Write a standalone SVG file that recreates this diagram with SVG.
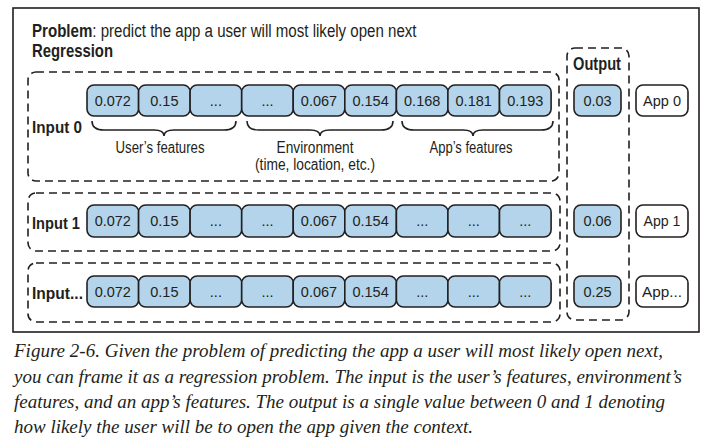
<svg xmlns="http://www.w3.org/2000/svg" width="727" height="437" viewBox="0 0 727 437">
<style>
.frame{fill:#fff;stroke:#231f20;stroke-width:1.6}
.dash{fill:none;stroke:#231f20;stroke-width:1.6;stroke-dasharray:8 5}
.cell{fill:#b3d4ea;stroke:#231f20;stroke-width:1.6}
.app{fill:#fff;stroke:#231f20;stroke-width:1.6}
.brace{fill:none;stroke:#231f20;stroke-width:1.6}
.t{font-family:"Liberation Sans",Arial,sans-serif;font-size:14.5px;fill:#231f20;text-anchor:middle}
.lab{font-family:"Liberation Sans",Arial,sans-serif;font-size:16px;fill:#231f20;text-anchor:middle}
.in{font-family:"Liberation Sans",Arial,sans-serif;font-size:17px;font-weight:bold;fill:#231f20}
.title{font-family:"Liberation Sans",Arial,sans-serif;font-size:19px;fill:#231f20}
.cap{font-family:"Liberation Serif","Times New Roman",serif;font-size:18px;font-style:italic;fill:#231f20}
</style>
<rect width="727" height="437" fill="#fff"/>
<rect class="frame" x="13" y="8" width="686" height="324"/>

<g id="title">
<g transform="translate(32,37) scale(0.794,1)">
<text class="title" x="0" y="0"><tspan font-weight="bold">Problem</tspan>: predict the app a user will most likely open next</text>
</g>
<text class="title" x="32" y="57" font-weight="bold" textLength="81" lengthAdjust="spacingAndGlyphs">Regression</text>
</g>

<g id="output-group">
<rect class="dash" x="567" y="48" width="62" height="272" rx="8"/>
<text class="title" x="573" y="70" font-weight="bold" textLength="48" lengthAdjust="spacingAndGlyphs">Output</text>
</g>

<g id="input0">
<rect class="dash" x="28" y="72" width="531" height="109" rx="8"/>
<text class="in" x="32" y="133" textLength="50" lengthAdjust="spacingAndGlyphs">Input 0</text>
<rect class="cell" x="87" y="85" width="51.6" height="31" rx="7"/>
<rect class="cell" x="138.6" y="85" width="51.6" height="31" rx="7"/>
<rect class="cell" x="190.1" y="85" width="51.6" height="31" rx="7"/>
<rect class="cell" x="241.7" y="85" width="51.6" height="31" rx="7"/>
<rect class="cell" x="293.2" y="85" width="51.6" height="31" rx="7"/>
<rect class="cell" x="344.8" y="85" width="51.6" height="31" rx="7"/>
<rect class="cell" x="396.4" y="85" width="51.6" height="31" rx="7"/>
<rect class="cell" x="447.9" y="85" width="51.6" height="31" rx="7"/>
<rect class="cell" x="499.5" y="85" width="51.6" height="31" rx="7"/>
<text class="t" x="112.8" y="106">0.072</text>
<text class="t" x="164.4" y="106">0.15</text>
<text class="t" x="215.9" y="106">...</text>
<text class="t" x="267.5" y="106">...</text>
<text class="t" x="319" y="106">0.067</text>
<text class="t" x="370.6" y="106">0.154</text>
<text class="t" x="422.2" y="106">0.168</text>
<text class="t" x="473.7" y="106">0.181</text>
<text class="t" x="525.3" y="106">0.193</text>
</g>

<g id="braces">
<path class="brace" d="M92,121 C92,127 96,130 104,130 L154,130 C160,130 164,132 164,136 C164,132 168,130 174,130 L224,130 C232,130 236,127 236,121"/>
<path class="brace" d="M247,121 C247,127 251,130 259,130 L310,130 C316,130 320,132 320,136 C320,132 324,130 330,130 L381,130 C389,130 393,127 393,121"/>
<path class="brace" d="M402,121 C402,127 406,130 414,130 L463,130 C469,130 473,132 473,136 C473,132 477,130 483,130 L541,130 C549,130 553,127 553,121"/>
<text class="lab" x="160" y="153" textLength="89" lengthAdjust="spacingAndGlyphs">User’s features</text>
<text class="lab" x="315" y="153" textLength="77" lengthAdjust="spacingAndGlyphs">Environment</text>
<text class="lab" x="315" y="170" textLength="120" lengthAdjust="spacingAndGlyphs">(time, location, etc.)</text>
<text class="lab" x="471" y="153" textLength="83" lengthAdjust="spacingAndGlyphs">App’s features</text>
</g>

<g id="input1">
<rect class="dash" x="28" y="193" width="532" height="58" rx="8"/>
<text class="in" x="32" y="229" textLength="48" lengthAdjust="spacingAndGlyphs">Input 1</text>
<rect class="cell" x="87" y="205" width="51.6" height="32" rx="7"/>
<rect class="cell" x="138.6" y="205" width="51.6" height="32" rx="7"/>
<rect class="cell" x="190.1" y="205" width="51.6" height="32" rx="7"/>
<rect class="cell" x="241.7" y="205" width="51.6" height="32" rx="7"/>
<rect class="cell" x="293.2" y="205" width="51.6" height="32" rx="7"/>
<rect class="cell" x="344.8" y="205" width="51.6" height="32" rx="7"/>
<rect class="cell" x="396.4" y="205" width="51.6" height="32" rx="7"/>
<rect class="cell" x="447.9" y="205" width="51.6" height="32" rx="7"/>
<rect class="cell" x="499.5" y="205" width="51.6" height="32" rx="7"/>
<text class="t" x="112.8" y="226">0.072</text>
<text class="t" x="164.4" y="226">0.15</text>
<text class="t" x="215.9" y="226">...</text>
<text class="t" x="267.5" y="226">...</text>
<text class="t" x="319" y="226">0.067</text>
<text class="t" x="370.6" y="226">0.154</text>
<text class="t" x="422.2" y="226">...</text>
<text class="t" x="473.7" y="226">...</text>
<text class="t" x="525.3" y="226">...</text>
</g>

<g id="input2">
<rect class="dash" x="28" y="263" width="532" height="59" rx="8"/>
<text class="in" x="32" y="299" textLength="51" lengthAdjust="spacingAndGlyphs">Input...</text>
<rect class="cell" x="87" y="276" width="51.6" height="31" rx="7"/>
<rect class="cell" x="138.6" y="276" width="51.6" height="31" rx="7"/>
<rect class="cell" x="190.1" y="276" width="51.6" height="31" rx="7"/>
<rect class="cell" x="241.7" y="276" width="51.6" height="31" rx="7"/>
<rect class="cell" x="293.2" y="276" width="51.6" height="31" rx="7"/>
<rect class="cell" x="344.8" y="276" width="51.6" height="31" rx="7"/>
<rect class="cell" x="396.4" y="276" width="51.6" height="31" rx="7"/>
<rect class="cell" x="447.9" y="276" width="51.6" height="31" rx="7"/>
<rect class="cell" x="499.5" y="276" width="51.6" height="31" rx="7"/>
<text class="t" x="112.8" y="297">0.072</text>
<text class="t" x="164.4" y="297">0.15</text>
<text class="t" x="215.9" y="297">...</text>
<text class="t" x="267.5" y="297">...</text>
<text class="t" x="319" y="297">0.067</text>
<text class="t" x="370.6" y="297">0.154</text>
<text class="t" x="422.2" y="297">...</text>
<text class="t" x="473.7" y="297">...</text>
<text class="t" x="525.3" y="297">...</text>
</g>

<g id="output0">
<rect class="cell" x="574" y="85" width="47" height="31" rx="7"/>
<text class="t" x="597.5" y="106">0.03</text>
</g>
<g id="output1">
<rect class="cell" x="574" y="205" width="47" height="32" rx="7"/>
<text class="t" x="597.5" y="226">0.06</text>
</g>
<g id="output2">
<rect class="cell" x="574" y="276" width="47" height="31" rx="7"/>
<text class="t" x="597.5" y="297">0.25</text>
</g>

<g id="app0">
<rect class="app" x="636" y="85" width="52" height="31" rx="7"/>
<text class="t" x="662" y="106" textLength="38" lengthAdjust="spacingAndGlyphs">App 0</text>
</g>
<g id="app1">
<rect class="app" x="636" y="205" width="52" height="32" rx="7"/>
<text class="t" x="662" y="226" textLength="37" lengthAdjust="spacingAndGlyphs">App 1</text>
</g>
<g id="app2">
<rect class="app" x="636" y="276" width="52" height="31" rx="7"/>
<text class="t" x="662" y="297" textLength="40" lengthAdjust="spacingAndGlyphs">App...</text>
</g>

<g id="caption">
<text class="cap" x="14" y="357" textLength="649" lengthAdjust="spacingAndGlyphs">Figure 2-6. Given the problem of predicting the app a user will most likely open next,</text>
<text class="cap" x="14" y="383" textLength="668" lengthAdjust="spacingAndGlyphs">you can frame it as a regression problem. The input is the user’s features, environment’s</text>
<text class="cap" x="14" y="408" textLength="651" lengthAdjust="spacingAndGlyphs">features, and an app’s features. The output is a single value between 0 and 1 denoting</text>
<text class="cap" x="14" y="433" textLength="459" lengthAdjust="spacingAndGlyphs">how likely the user will be to open the app given the context.</text>
</g>
</svg>
